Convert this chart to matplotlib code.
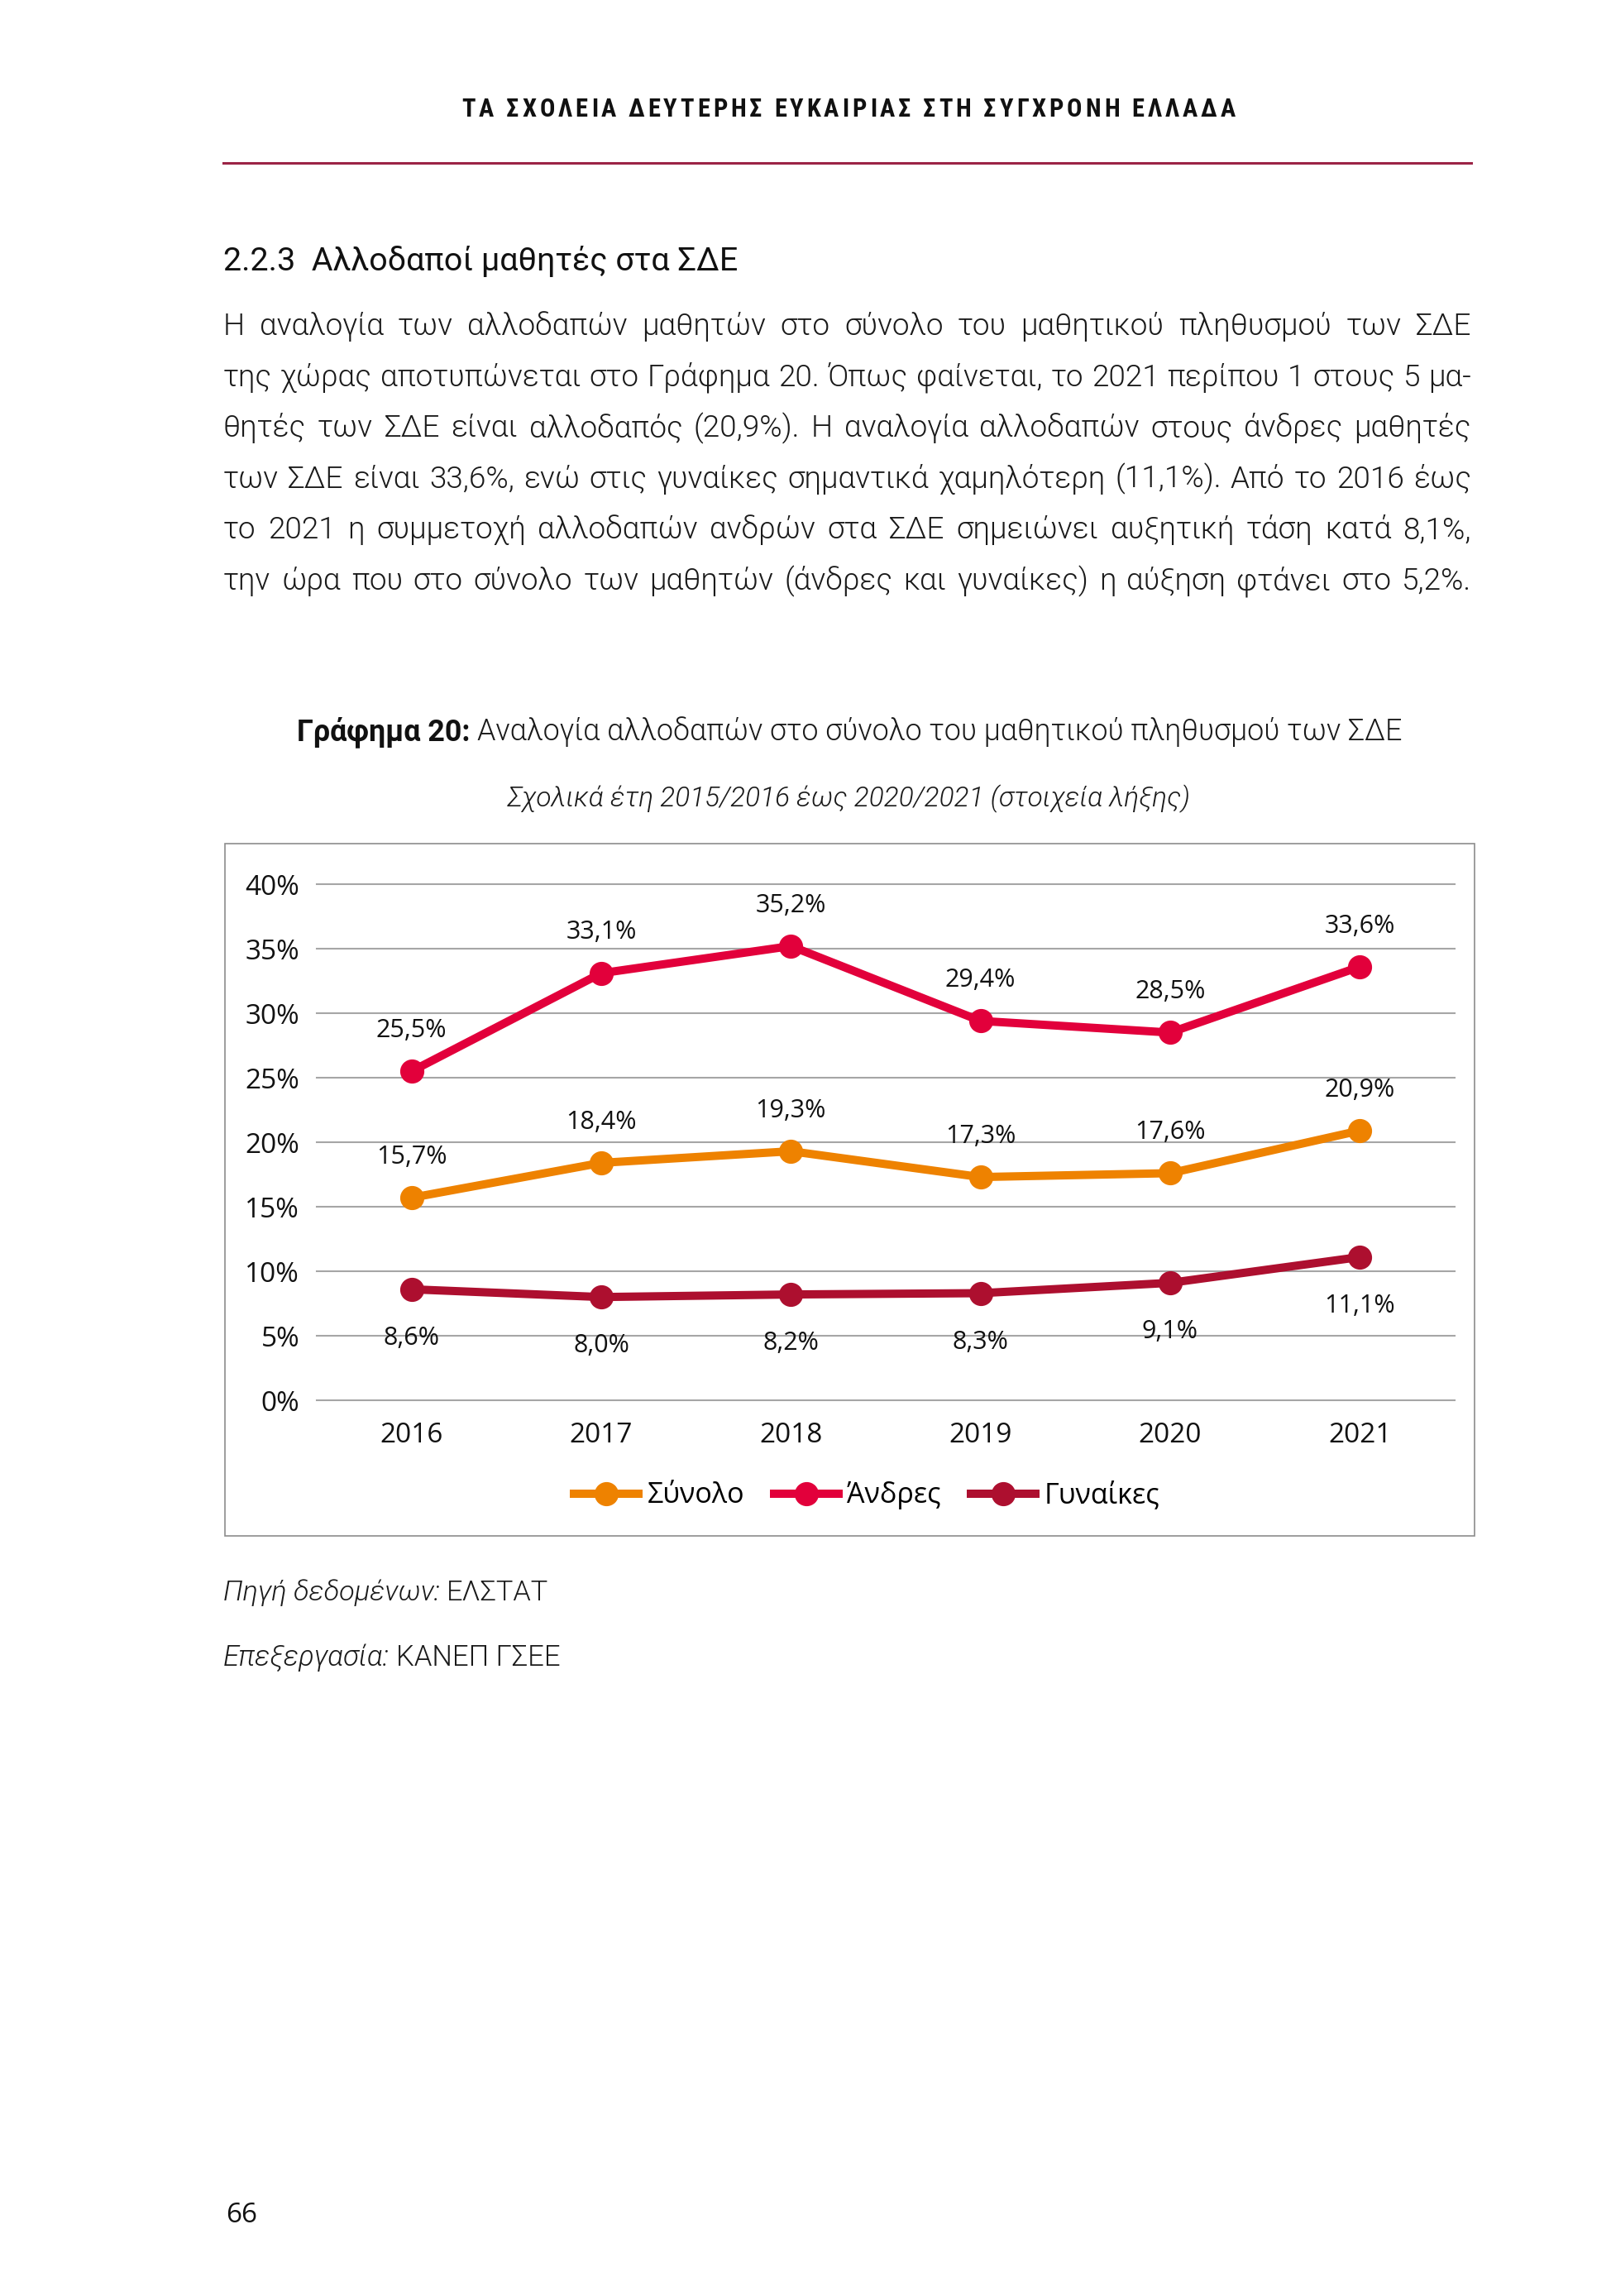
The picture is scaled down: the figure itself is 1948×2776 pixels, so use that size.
import os
import numpy as np
import matplotlib
matplotlib.use('Agg')
import matplotlib.pyplot as plt
from matplotlib import font_manager as fm
from matplotlib.patches import Rectangle
from matplotlib.lines import Line2D
from matplotlib.transforms import ScaledTranslation

# ---------------- data ----------------
years = ['2016', '2017', '2018', '2019', '2020', '2021']
synolo = [15.7, 18.4, 19.3, 17.3, 17.6, 20.9]
andres = [25.5, 33.1, 35.2, 29.4, 28.5, 33.6]
gynaikes = [8.6, 8.0, 8.2, 8.3, 9.1, 11.1]
series_names = ['Σύνολο', 'Άνδρες', 'Γυναίκες']
yticks = [0, 5, 10, 15, 20, 25, 30, 35, 40]
ytick_labels = ['0%', '5%', '10%', '15%', '20%', '25%', '30%', '35%', '40%']

header_text = 'ΤΑ ΣΧΟΛΕΙΑ ΔΕΥΤΕΡΗΣ ΕΥΚΑΙΡΙΑΣ ΣΤΗ ΣΥΓΧΡΟΝΗ ΕΛΛΑΔΑ'
heading_text = '2.2.3  Αλλοδαποί μαθητές στα ΣΔΕ'
body_lines = [
    'Η αναλογία των αλλοδαπών μαθητών στο σύνολο του μαθητικού πληθυσμού των ΣΔΕ',
    'της χώρας αποτυπώνεται στο Γράφημα 20. Όπως φαίνεται, το 2021 περίπου 1 στους 5 μα-',
    'θητές των ΣΔΕ είναι αλλοδαπός (20,9%). Η αναλογία αλλοδαπών στους άνδρες μαθητές',
    'των ΣΔΕ είναι 33,6%, ενώ στις γυναίκες σημαντικά χαμηλότερη (11,1%). Από το 2016 έως',
    'το 2021 η συμμετοχή αλλοδαπών ανδρών στα ΣΔΕ σημειώνει αυξητική τάση κατά 8,1%,',
    'την ώρα που στο σύνολο των μαθητών (άνδρες και γυναίκες) η αύξηση φτάνει στο 5,2%.',
]
title_bold = 'Γράφημα 20:'
title_rest = 'Αναλογία αλλοδαπών στο σύνολο του μαθητικού πληθυσμού των ΣΔΕ'
subtitle = 'Σχολικά έτη 2015/2016 έως 2020/2021 (στοιχεία λήξης)'
source1 = ('Πηγή δεδομένων:', 'ΕΛΣΤΑΤ')
source2 = ('Επεξεργασία:', 'ΚΑΝΕΠ ΓΣΕΕ')
page_no = '66'

colors = ['#EE8200', '#E2003B', '#AD0F2F']

# ---------------- figure ----------------
W, H = 1949, 2776
DPI = 100
fig = plt.figure(figsize=(W / DPI, H / DPI), dpi=DPI)
fig.patch.set_facecolor('white')
renderer = fig.canvas.get_renderer()

_files = {}
for f in fm.fontManager.ttflist:
    base = os.path.splitext(os.path.basename(f.fname))[0].lower()
    _files.setdefault(base, f.fname)


def P(base, size):
    p = base.copy()
    p.set_size(size)
    return p


def measure(s, prop):
    w, h, d = renderer.get_text_width_height_descent(s, prop, ismath=False)
    return w


def cap_h(prop):
    w, h, d = renderer.get_text_width_height_descent('Η', prop, ismath=False)
    return h - d


def space_w(prop):
    return measure('a a', prop) - measure('aa', prop)


def ftext(x, y, s, prop, ha='left', va='baseline', color='black'):
    return fig.text(x / W, 1 - y / H, s, fontproperties=prop, ha=ha, va=va, color=color)


def fit_parts(parts, target, size0=20):
    def total(sz):
        ps = [P(p, sz) for _, p in parts]
        w = sum(measure(s, p) for (s, _), p in zip(parts, ps))
        w += space_w(ps[-1]) * (len(parts) - 1)
        return w
    return size0 * target / total(size0)


families = [
    ('NotoSans-CondensedLight', 'NotoSans-CondensedLightItalic', 'NotoSans-Condensed', 'NotoSans-CondensedBold'),
    ('NotoSans-SemiCondensedLight', 'NotoSans-SemiCondensedLightItalic', 'NotoSans-SemiCondensed', 'NotoSans-SemiCondensedBold'),
    ('OpenSans_Condensed-Light', 'OpenSans_Condensed-LightItalic', 'OpenSans_Condensed-Regular', 'OpenSans_Condensed-Bold'),
    ('OpenSans_SemiCondensed-Light', 'OpenSans_SemiCondensed-LightItalic', 'OpenSans_SemiCondensed-Regular', 'OpenSans_SemiCondensed-Bold'),
    ('RobotoCondensed-Light', 'RobotoCondensed-LightItalic', 'RobotoCondensed-Regular', 'RobotoCondensed-Bold'),
    ('Roboto-Light', 'Roboto-LightItalic', 'Roboto-Regular', 'Roboto-Bold'),
    ('OpenSans-Light', 'OpenSans-LightItalic', 'OpenSans-Regular', 'OpenSans-Bold'),
    ('NotoSans-Light', 'NotoSans-LightItalic', 'NotoSans-Regular', 'NotoSans-Bold'),
    ('LiberationSansNarrow-Regular', 'LiberationSansNarrow-Italic', 'LiberationSansNarrow-Regular', 'LiberationSansNarrow-Bold'),
]

X0, X1 = 270, 1779
TARGET_CAP = 23.0
best = None
for fam in families:
    if not all(n.lower() in _files for n in fam):
        continue
    props = [fm.FontProperties(fname=_files[n.lower()]) for n in fam]
    sz = min(fit_parts([(w, props[0]) for w in l.split(' ')], (X1 - X0) * 0.99) for l in body_lines)
    ch = cap_h(P(props[0], sz))
    score = abs(ch - TARGET_CAP)
    if best is None or score < best[0]:
        best = (score, props, sz)

if best is None:
    f_light = fm.FontProperties(family=['Open Sans', 'DejaVu Sans'], weight='light')
    f_light_it = fm.FontProperties(family=['Open Sans', 'DejaVu Sans'], weight='light', style='italic')
    f_reg_c = fm.FontProperties(family=['Open Sans', 'DejaVu Sans'])
    f_bold_c = fm.FontProperties(family=['Open Sans', 'DejaVu Sans'], weight='bold')
    body_size = min(fit_parts([(w, f_light) for w in l.split(' ')], (X1 - X0) * 0.99) for l in body_lines)
else:
    f_light, f_light_it, f_reg_c, f_bold_c = best[1]
    body_size = best[2]

hdr_base = f_bold_c
for n in ['RobotoCondensed-Bold', 'NotoSans-CondensedBold', 'OpenSans_Condensed-Bold']:
    if n.lower() in _files:
        hdr_base = fm.FontProperties(fname=_files[n.lower()])
        break

f_chart = fm.FontProperties(family=['Open Sans', 'DejaVu Sans'])

# ---------------- header ----------------
hdr_prop = P(hdr_base, 22)
chars = list(header_text)
sw = space_w(hdr_prop)
cw = [sw if c == ' ' else measure(c, hdr_prop) for c in chars]
target = 1493 - 558
track = (target - sum(cw)) / (len(chars) - 1)
x = 1026 - target / 2
for c, w in zip(chars, cw):
    if c != ' ':
        ftext(x, 141, c, hdr_prop, color='#111111')
    x += w + track

fig.add_artist(Line2D([270 / W, 1779 / W], [1 - 197 / H, 1 - 197 / H],
                      color='#9b2446', lw=2.2, transform=fig.transFigure))

# ---------------- heading ----------------
hs = fit_parts([(heading_text, f_reg_c)], 892 - 270)
ftext(270, 327, heading_text, P(f_reg_c, hs), color='#111111')

# ---------------- body ----------------
body_prop = P(f_light, body_size)
for i, line in enumerate(body_lines):
    y = 405 + i * 61.6
    words = line.split(' ')
    ws = [measure(w, body_prop) for w in words]
    gap = (X1 - X0 - sum(ws)) / (len(words) - 1)
    x = X0
    for w, wd in zip(words, ws):
        ftext(x, y, w, body_prop, color='#1a1a1a')
        x += wd + gap

# ---------------- chart title ----------------
ts = fit_parts([(title_bold, f_bold_c), (title_rest, f_light)], 1693 - 359)
tb = P(f_bold_c, ts)
tr = P(f_light, ts)
w1 = measure(title_bold, tb)
w2 = measure(title_rest, tr)
g = space_w(tr)
x = 1027 - (w1 + g + w2) / 2
ftext(x, 895, title_bold, tb, color='#111111')
ftext(x + w1 + g, 895, title_rest, tr, color='#1a1a1a')

ss = fit_parts([(subtitle, f_light_it)], 1437 - 613)
ftext(1027, 975, subtitle, P(f_light_it, ss), ha='center', color='#1a1a1a')

# ---------------- chart box ----------------
fig.add_artist(Rectangle((272 / W, 1 - 1857 / H), (1783 - 272) / W, (1857 - 1020) / H,
                         transform=fig.transFigure, fill=False, ec='#8c8c8c', lw=1.2))

ax = fig.add_axes([383 / W, 1 - 1693 / H, (1759 - 383) / W, (1693 - 1069) / H])
xpos = np.arange(len(years))
all_series = [synolo, andres, gynaikes]
for vals, col, name in zip(all_series, colors, series_names):
    ax.plot(xpos, vals, color=col, lw=7.2, marker='o', ms=20, mfc=col, mec=col,
            solid_capstyle='round', solid_joinstyle='round', label=name, zorder=3, clip_on=False)

ax.set_xlim(-0.5, len(years) - 0.5)
ax.set_ylim(0, 40)
ax.set_yticks(yticks)
ax.set_yticklabels(ytick_labels)
ax.set_xticks(xpos)
ax.set_xticklabels(years)
for lab in ax.get_yticklabels() + ax.get_xticklabels():
    lab.set_fontproperties(P(f_chart, 24))
    lab.set_color('#111111')
shift = ScaledTranslation(4 / 72, 0, fig.dpi_scale_trans)
for lab in ax.get_xticklabels():
    lab.set_transform(lab.get_transform() + shift)
ax.tick_params(axis='y', length=0, pad=15)
ax.tick_params(axis='x', length=0, pad=19)
ax.yaxis.grid(True, color='#a6a6a6', lw=1.5)
ax.xaxis.grid(False)
for gl in ax.get_ygridlines():
    gl.set_clip_on(False)
ax.set_axisbelow(True)
for s in ax.spines.values():
    s.set_visible(False)
ax.set_facecolor('none')

lab_prop = P(f_chart, 22)


def fmt(v):
    return ('%.1f' % v).replace('.', ',') + '%'


for vals, off in zip(all_series, [35.5, 35.5, -42.5]):
    for xi, v in zip(xpos, vals):
        ax.annotate(fmt(v), (xi, v), xytext=(0, off), textcoords='offset points',
                    ha='center', va='center', fontproperties=lab_prop, color='#111111')

handles = [Line2D([0], [0], color=c, lw=7.2, marker='o', ms=20, mfc=c, mec=c) for c in colors]
fig.legend(handles, series_names, loc='center', bbox_to_anchor=(1048 / W, 1 - 1808 / H),
           ncol=3, frameon=False, prop=P(f_chart, 24.5), handlelength=2.3,
           handletextpad=0.3, columnspacing=1.05, numpoints=1)

# ---------------- sources ----------------
for (it, rg), yb, tw in zip([source1, source2], [1935, 2014], [664 - 270, 677 - 270]):
    sz = fit_parts([(it, f_light_it), (rg, f_light)], tw)
    pi = P(f_light_it, sz)
    pr = P(f_light, sz)
    wi = measure(it, pi)
    ftext(270, yb, it, pi, color='#1a1a1a')
    ftext(270 + wi + space_w(pr), yb, rg, pr, color='#1a1a1a')

ftext(273, 2687, page_no, P(f_chart, 24), color='#111111')

fig.savefig('out.png', dpi=DPI)
